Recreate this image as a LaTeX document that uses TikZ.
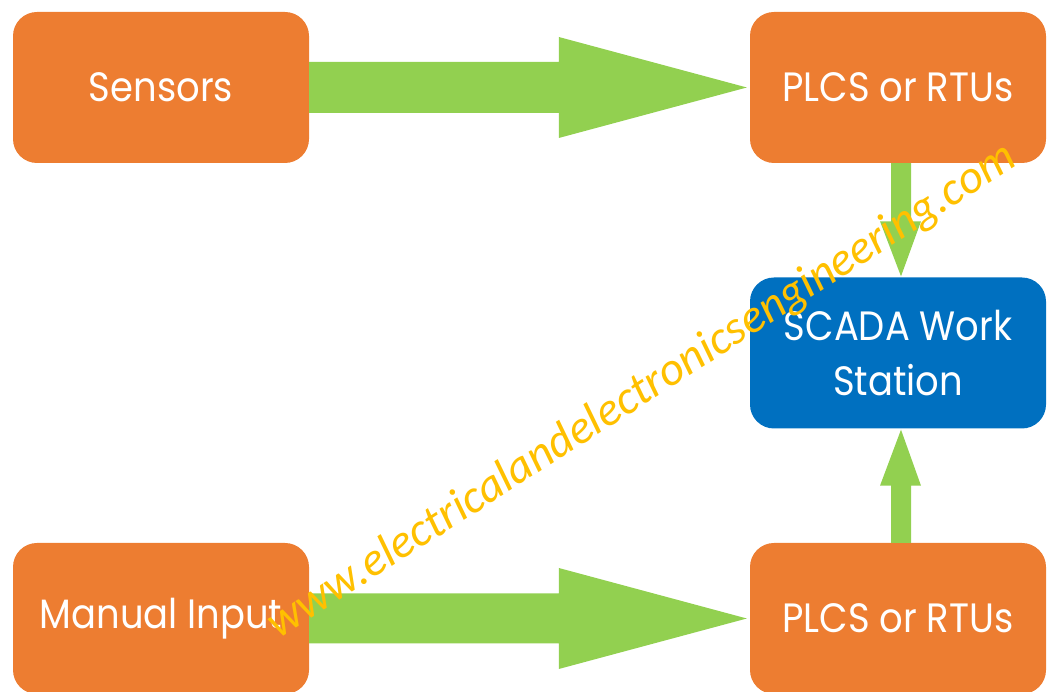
\documentclass[tikz,border=0pt]{standalone}
\usepackage{fontspec}
\newfontfamily\boxfont[FakeStretch=0.9]{Poppins}
\newfontfamily\wmfont{Carlito}
\definecolor{boxorange}{HTML}{ED7D31}
\definecolor{boxblue}{HTML}{0070C0}
\definecolor{arrgreen}{HTML}{92D050}
\definecolor{wmyellow}{HTML}{FFC000}
\tikzset{
  blk/.style={rectangle, rounded corners=24pt, minimum width=296pt, minimum height=151pt,
    inner sep=0pt, text=white, align=center, font=\boxfont\fontsize{41}{55}\selectfont},
  orangeblk/.style={blk, fill=boxorange},
  blueblk/.style={blk, fill=boxblue},
  fatarrow/.style={fill=arrgreen}
}
\begin{document}
\begin{tikzpicture}[x=1pt,y=1pt]
\useasboundingbox (0,0) rectangle (1047,692);
\begin{scope}
\clip (0,0) rectangle (1047,692);
\node[orangeblk] (sens) at (161,604.5) {Sensors};
\node[orangeblk] (plc1) at (898,604.5) {PLCS or RTUs};
\node[blueblk] (scada) at (898,339) {SCADA Work\\Station};
\node[orangeblk] (man) at (161,73.5) {Manual Input};
\node[orangeblk] (plc2) at (898,73.5) {PLCS or RTUs};
% horizontal arrows
\fill[fatarrow] ([yshift=25.5]sens.east) -- ([xshift=-191,yshift=25.5]plc1.west)
  -- ([xshift=-191,yshift=50.5]plc1.west) -- ([xshift=-3]plc1.west)
  -- ([xshift=-191,yshift=-50.5]plc1.west) -- ([xshift=-191,yshift=-25.5]plc1.west)
  -- ([yshift=-25.5]sens.east) -- cycle;
\fill[fatarrow] ([yshift=25]man.east) -- ([xshift=-191,yshift=25]plc2.west)
  -- ([xshift=-191,yshift=50.5]plc2.west) -- ([xshift=-3]plc2.west)
  -- ([xshift=-191,yshift=-50.5]plc2.west) -- ([xshift=-191,yshift=-25]plc2.west)
  -- ([yshift=-25]man.east) -- cycle;
% vertical arrows
\fill[fatarrow] ([xshift=-7]plc1.south) -- ([xshift=-7,yshift=56]scada.north)
  -- ([xshift=-18,yshift=56]scada.north) -- ([xshift=3,yshift=1]scada.north)
  -- ([xshift=23,yshift=56]scada.north) -- ([xshift=13,yshift=56]scada.north)
  -- ([xshift=13]plc1.south) -- cycle;
\fill[fatarrow] ([xshift=-7]plc2.north) -- ([xshift=-7,yshift=-57]scada.south)
  -- ([xshift=-18,yshift=-57]scada.south) -- ([xshift=3,yshift=-1]scada.south)
  -- ([xshift=23,yshift=-57]scada.south) -- ([xshift=13,yshift=-57]scada.south)
  -- ([xshift=13]plc2.north) -- cycle;
% watermark
\node[anchor=base west, rotate=32.7, inner sep=0pt, text=wmyellow] (wm) at (278,52)
  {\resizebox{880pt}{!}{\wmfont\itshape www.electricalandelectronicsengineering.com}};
\end{scope}
\end{tikzpicture}
\end{document}
